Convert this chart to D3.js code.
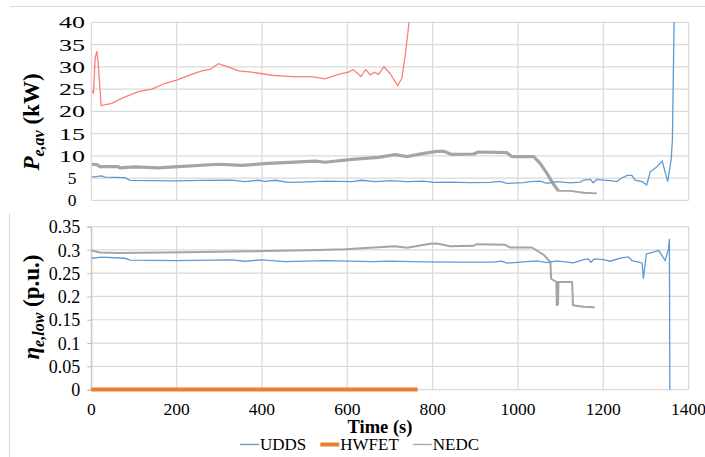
<!DOCTYPE html>
<html>
<head>
<meta charset="utf-8">
<title>engine power and efficiency</title>
<script src="https://cdn.jsdelivr.net/npm/d3@7/dist/d3.min.js"></script>
</head>
<body style="margin:0">
<div id="chart"></div>
<script>
// ---- data: [time (s), value]
var uddsPower = [[1,5.2],[24,5.5],[32,5.2],[79,5.1],[91,4.5],[196,4.35],[260,4.5],[329,4.55],[360,4.2],[392,4.5],[407,4.25],
  [431,4.5],[462,4.05],[493,4.1],[548,4.3],[611,4.2],[634,4.5],[665,4.2],[700,4.4],[740,4.2],[779,4.3],[802,4.05],
  [841,4.1],[888,3.95],[935,4.05],[958,4.25],[974,3.8],[1013,3.95],[1029,4.2],[1052,4.3],[1068,3.8],[1091,4.2],
  [1123,3.9],[1146,4.1],[1154,4.55],[1170,4.7],[1176,3.95],[1185,4.7],[1201,4.55],[1216,4.4],[1232,4.2],[1240,4.85],
  [1256,5.6],[1267,5.6],[1275,4.55],[1291,4.2],[1302,3.45],[1310,6.4],[1326,7.55],[1338,8.8],[1351,4.2],[1359,9.1],
  [1362,13.5],[1366,40],[1368,48]];
var hwfetPower = [[2,24.6],[5,24.0],[9,31.9],[13,33.5],[16,31.1],[23,21.3],[48,21.8],[71,22.9],[110,24.4],[142,25.0],
  [173,26.3],[200,27.0],[235,28.3],[259,29.1],[278,29.4],[298,30.7],[321,30.0],[345,29.1],[376,28.8],[423,28.1],
  [470,27.8],[517,27.8],[548,27.3],[579,28.3],[603,28.8],[614,29.4],[632,27.8],[643,29.4],[654,28.2],[664,28.8],
  [673,28.3],[686,30.0],[700,28.5],[718,25.8],[728,27.4],[736,32.7],[745,40.1],[750,48]];
var nedcPower = [[1,8.1],[13,8.0],[20,7.55],[63,7.55],[67,7.3],[102,7.5],[157,7.3],[204,7.55],[298,8.1],[353,7.85],
  [415,8.3],[525,8.8],[548,8.55],[611,9.2],[673,9.65],[712,10.25],[740,9.8],[779,10.55],[810,11.0],[826,11.0],
  [845,10.3],[896,10.4],[907,10.85],[974,10.7],[986,9.8],[1037,9.8],[1052,8.3],[1068,6.05],[1083,3.65],[1095,2.1],
  [1123,2.1],[1154,1.7],[1185,1.55]];

var uddsEff = [[1,0.282],[24,0.2843],[79,0.282],[91,0.2778],[196,0.2771],[329,0.2786],[360,0.2756],[400,0.2786],
  [454,0.275],[548,0.2771],[658,0.275],[700,0.2757],[779,0.2744],[857,0.2736],[943,0.2736],[962,0.2757],[974,0.2715],
  [1013,0.2744],[1044,0.2764],[1068,0.2728],[1091,0.2764],[1130,0.2721],[1154,0.2793],[1165,0.2807],[1171,0.2736],
  [1179,0.2807],[1201,0.2793],[1216,0.2757],[1240,0.2821],[1259,0.285],[1267,0.2771],[1283,0.2736],[1291,0.2715],
  [1294,0.238],[1301,0.2914],[1330,0.2986],[1345,0.2771],[1353,0.3021],[1355,0.3236],[1356,0]];
var hwfetEff = [[0,0],[765,0]];
var nedcEff = [[1,0.2985],[20,0.2943],[63,0.2935],[220,0.295],[376,0.297],[532,0.300],[595,0.3014],[712,0.3078],
  [740,0.3047],[794,0.313],[810,0.3137],[841,0.3079],[896,0.3087],[904,0.3122],[970,0.311],[982,0.3051],[1033,0.3051],
  [1060,0.2895],[1076,0.274],[1078,0.238],[1090,0.231],[1091,0.181],[1093,0.231],[1094,0.183],[1095,0.231],
  [1127,0.231],[1129,0.181],[1154,0.178],[1180,0.177]];

var timeTicks = [0,200,400,600,800,1000,1200,1400];
var powerTicks = [0,5,10,15,20,25,30,35,40];
var effTicks = [0,0.05,0.1,0.15,0.2,0.25,0.3,0.35];
var legendNames = ["UDDS","HWFET","NEDC"];

var colors = {udds:"#5b9bd5", hwfet:"#ed7d31", nedc:"#a5a5a5", hwfetTop:"#ff7c7c"};
var gridColor = "#d9d9d9";

var W = 705, H = 457;
var svg = d3.select("#chart").append("svg").attr("width", W).attr("height", H)
  .attr("font-family","Liberation Serif");

// every text gets the serif face set directly
function txt(sel, size){
  return sel.attr("font-family","Liberation Serif").style("font-family","'Liberation Serif'")
    .style("font-size", size+"px");
}

var xScale = d3.scaleLinear().domain([0,1400]).range([91.3,688.6]);
var yTop = d3.scaleLinear().domain([0,40]).range([200.3,22.3]);
var yBot = d3.scaleLinear().domain([0,0.35]).range([389.6,226.6]);

// outer chart borders (pieces of the two chart frames)
svg.append("line").attr("x1",10).attr("x2",W).attr("y1",6.5).attr("y2",6.5)
  .attr("stroke",gridColor).attr("stroke-width",1);
svg.append("line").attr("x1",9.5).attr("x2",9.5).attr("y1",213).attr("y2",H)
  .attr("stroke",gridColor).attr("stroke-width",1);

function drawGrid(yScale, yTicks){
  var g = svg.append("g");
  g.selectAll(".hg").data(yTicks).enter().append("line")
    .attr("x1",xScale(0)).attr("x2",xScale(1400))
    .attr("y1",d=>yScale(d)).attr("y2",d=>yScale(d))
    .attr("stroke",gridColor).attr("stroke-width",1.2);
  g.selectAll(".vg").data(timeTicks).enter().append("line")
    .attr("x1",d=>xScale(d)).attr("x2",d=>xScale(d))
    .attr("y1",yScale.range()[1]).attr("y2",yScale.range()[0])
    .attr("stroke",gridColor).attr("stroke-width",1.2);
}
drawGrid(yTop, powerTicks);
drawGrid(yBot, effTicks);

// clip regions
var defs = svg.append("defs");
defs.append("clipPath").attr("id","clipTop").append("rect")
  .attr("x",xScale(0)-3).attr("y",yTop(40)).attr("width",xScale(1400)-xScale(0)+6).attr("height",yTop(0)-yTop(40)+3);
defs.append("clipPath").attr("id","clipBot").append("rect")
  .attr("x",xScale(0)-3).attr("y",yBot(0.35)-3).attr("width",xScale(1400)-xScale(0)+6).attr("height",yBot(0)-yBot(0.35)+6);

// y tick labels (top panel has no tick marks, labels look stretched sideways)
var topLab = txt(svg.append("g").selectAll("text").data(powerTicks).enter().append("text")
  .attr("x",72).attr("y",d=>yTop(d)).attr("dy","0.34em")
  .attr("text-anchor","middle"), 17.5).text(d=>d);
topLab.filter(d=>d>=10).attr("textLength",26).attr("lengthAdjust","spacingAndGlyphs");

var yAxisBot = d3.axisLeft(yBot).tickValues(effTicks).tickSize(4).tickFormat(d=>d);
var gAx = svg.append("g").attr("transform","translate("+xScale(0)+",0)").call(yAxisBot)
  .attr("font-family","Liberation Serif");
gAx.selectAll(".domain, .tick line").attr("stroke","#bfbfbf");
txt(gAx.selectAll(".tick text").attr("x",-11).attr("dy","0.34em").attr("fill","#000"), 18);

// x tick labels
txt(svg.append("g").selectAll("text").data(timeTicks).enter().append("text")
  .attr("x",d=>xScale(d)).attr("y",415).attr("text-anchor","middle"), 17.5).text(d=>d);

var line = function(ys){
  return d3.line().x(d=>xScale(d[0])).y(d=>ys(d[1]));
};

// top panel lines
var gTop = svg.append("g").attr("clip-path","url(#clipTop)");
var nedcHead = nedcPower.filter(d=>d[0]<=1095), nedcTail = nedcPower.filter(d=>d[0]>=1095);
gTop.append("path").attr("d",line(yTop)(nedcHead)).attr("fill","none")
  .attr("stroke",colors.nedc).attr("stroke-width",3.2).attr("stroke-linejoin","round");
gTop.append("path").attr("d",line(yTop)(nedcTail)).attr("fill","none")
  .attr("stroke",colors.nedc).attr("stroke-width",1.8);
gTop.append("path").attr("d",line(yTop)(uddsPower)).attr("fill","none")
  .attr("stroke",colors.udds).attr("stroke-width",1.3);
gTop.append("path").attr("d",line(yTop)(hwfetPower)).attr("fill","none")
  .attr("stroke",colors.hwfetTop).attr("stroke-width",1.3);

// bottom panel lines
var gBot = svg.append("g").attr("clip-path","url(#clipBot)");
gBot.append("path").attr("d",line(yBot)(nedcEff)).attr("fill","none")
  .attr("stroke",colors.nedc).attr("stroke-width",2).attr("stroke-linejoin","round");
gBot.append("path").attr("d",line(yBot)(uddsEff)).attr("fill","none")
  .attr("stroke",colors.udds).attr("stroke-width",1.3);
gBot.append("path").attr("d",line(yBot)(hwfetEff)).attr("fill","none")
  .attr("stroke",colors.hwfet).attr("stroke-width",4);

// axis titles
var t1 = txt(svg.append("text").attr("transform","translate(39,122) rotate(-90)")
  .attr("text-anchor","middle"), 23).style("font-weight","bold");
t1.append("tspan").style("font-style","italic").text("P");
t1.append("tspan").style("font-style","italic").style("font-size","16px").attr("dy",5).text("e,av");
t1.append("tspan").attr("dy",-5).text(" (kW)");

var t2 = txt(svg.append("text").attr("transform","translate(39,307) rotate(-90)")
  .attr("text-anchor","middle"), 23).style("font-weight","bold");
t2.append("tspan").style("font-style","italic").text("η");
t2.append("tspan").style("font-style","italic").style("font-size","16px").attr("dy",5).text("e,low");
t2.append("tspan").attr("dy",-5).text(" (p.u.)");

txt(svg.append("text").attr("x",380).attr("y",433).attr("text-anchor","middle"), 18.5)
  .style("font-weight","bold").text("Time (s)");

// legend
var legColors = [colors.udds, colors.hwfet, colors.nedc];
var legWidths = [1.3, 4, 1.3];
var lx = 240;
legendNames.forEach(function(name,i){
  svg.append("line").attr("x1",lx).attr("x2",lx+19).attr("y1",444.5).attr("y2",444.5)
    .attr("stroke",legColors[i]).attr("stroke-width",legWidths[i]);
  var tx = txt(svg.append("text").attr("x",lx+20).attr("y",450), 17).text(name);
  lx += 20 + tx.node().getComputedTextLength() + 14;
});
</script>
</body>
</html>
